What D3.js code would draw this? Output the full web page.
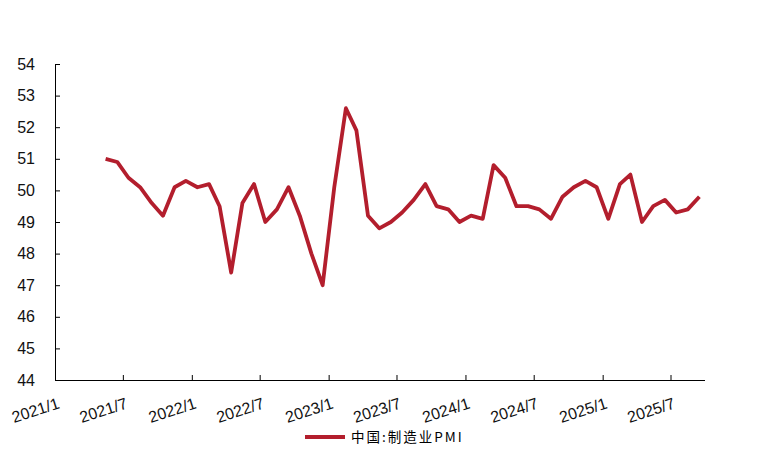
<!DOCTYPE html>
<html><head><meta charset="utf-8">
<script src="https://cdn.jsdelivr.net/npm/d3@7"></script>
<style>body{margin:0;background:#fff}</style>
</head><body>
<svg id="c" width="765" height="465"></svg>
<script>
const startMonth = "2021-05";
const pmiValues = [51.0,50.9,50.4,50.1,49.6,49.2,50.1,50.3,
  50.1,50.2,49.5,47.4,49.6,50.2,49.0,49.4,50.1,49.2,48.0,47.0,
  50.1,52.6,51.9,49.2,48.8,49.0,49.3,49.7,50.2,49.5,49.4,49.0,
  49.2,49.1,50.8,50.4,49.5,49.5,49.4,49.1,49.8,50.1,50.3,50.1,
  49.1,50.2,50.5,49.0,49.5,49.7,49.3,49.4,49.8];
const xTickLabels = ["2021/1","2021/7","2022/1","2022/7","2023/1","2023/7","2024/1","2024/7","2025/1","2025/7"];
const yTicks = [44,45,46,47,48,49,50,51,52,53,54];
const seriesName = "中国:制造业PMI";

const svg = d3.select("#c");
const x = d3.scaleTime().domain([new Date(2021,0,1), new Date(2025,9,1)]).range([55,705]);
const y = d3.scaleLinear().domain([44,54]).range([380,64]);

const data = pmiValues.map((v,i)=>({d:new Date(2021,4+i,16), v}));

// axes
const yAxis = d3.axisLeft(y).tickValues(yTicks).tickSize(-5).tickFormat(d3.format("d")).tickPadding(20);
const gy = svg.append("g").attr("transform","translate(55,0)").call(yAxis);
gy.select(".domain").attr("d","M0.5,64V380.5").attr("stroke","#000");
gy.selectAll(".tick line").attr("stroke","#000");
gy.selectAll("text").attr("font-family","Liberation Sans, Arial").attr("font-size",16).attr("fill","#111");

const tickDates = xTickLabels.map(s=>{const [a,b]=s.split("/");return new Date(+a,+b-1,1);});
const xAxis = d3.axisBottom(x).tickValues(tickDates).tickSize(-5).tickFormat((d,i)=>xTickLabels[i]);
const gx = svg.append("g").attr("transform","translate(0,380)").call(xAxis);
gx.select(".domain").attr("d","M55,0.5H705").attr("stroke","#000");
gx.selectAll(".tick line").attr("stroke","#000");
gx.selectAll(".tick:first-of-type line").remove();
gx.selectAll("text")
  .attr("font-family","Liberation Sans, Arial").attr("font-size",16).attr("fill","#111")
  .attr("text-anchor","end").attr("dy",null).attr("y",null)
  .attr("transform","translate(5,28) rotate(-18)");

// line
svg.append("path").datum(data)
  .attr("fill","none").attr("stroke","#B31E2D").attr("stroke-width",3.8)
  .attr("stroke-linejoin","round")
  .attr("d", d3.line().x(d=>x(d.d)).y(d=>y(d.v)));

// legend
const lg = svg.append("g").attr("transform","translate(305,437)");
lg.append("line").attr("x1",0).attr("x2",40).attr("y1",0).attr("y2",0).attr("stroke","#B31E2D").attr("stroke-width",4);
lg.append("text").attr("x",46).attr("y",5).attr("font-family","Noto Sans CJK SC").attr("font-size",13.5)
  .attr("letter-spacing",2).attr("fill","#000").text(seriesName);
</script>
</body></html>
